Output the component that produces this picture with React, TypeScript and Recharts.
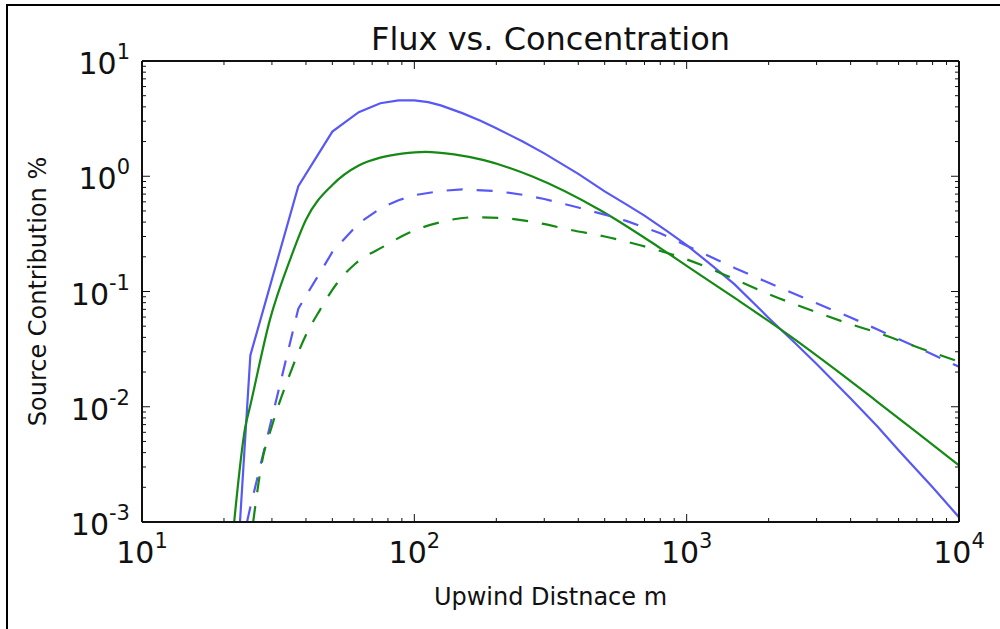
import { LineChart, Line, XAxis, YAxis } from 'recharts';

// upwind distance (m) and source contribution (%) for each curve
const blueSolidDist = [22.9, 25, 37.5, 50, 62.5, 75, 87.5, 100, 112.5, 125, 150, 175, 200, 250, 300, 400, 500, 600, 700, 850, 1000, 1250, 1500, 2000, 2500, 3000, 4000, 5000, 6000, 8000, 10000];
const blueSolidVal = [0.001, 0.028, 0.82, 2.44, 3.6, 4.3, 4.55, 4.55, 4.4, 4.12, 3.53, 3.03, 2.61, 2.0, 1.58, 1.05, 0.74, 0.57, 0.455, 0.333, 0.253, 0.165, 0.1153, 0.059, 0.0357, 0.0235, 0.0118, 0.0068, 0.0042, 0.002, 0.0011];

const greenSolidDist = [21.8, 23.9, 25, 29.5, 35, 40, 50, 62.5, 75, 90, 110, 140, 180, 270, 480, 800, 1000, 1500, 2400, 3500, 5000, 7000, 10000];
const greenSolidVal = [0.001, 0.0065, 0.0103, 0.057, 0.19, 0.42, 0.84, 1.24, 1.45, 1.57, 1.63, 1.55, 1.38, 1.0, 0.51, 0.238, 0.167, 0.088, 0.041, 0.0212, 0.0111, 0.006, 0.0031];

const blueDashDist = [24.3, 25, 37.5, 50, 62.5, 75, 87.5, 100, 125, 150, 200, 250, 300, 400, 500, 600, 800, 1000, 1500, 2000, 3000, 4000, 5000, 7000, 10000];
const blueDashVal = [0.001, 0.00135, 0.071, 0.22, 0.39, 0.527, 0.62, 0.685, 0.745, 0.77, 0.745, 0.69, 0.635, 0.535, 0.465, 0.41, 0.32, 0.25, 0.16, 0.119, 0.079, 0.0596, 0.047, 0.0329, 0.0222];

const greenDashDist = [25.6, 27.5, 30, 35, 40, 45, 52, 61, 77, 96, 120, 165, 220, 290, 380, 500, 670, 1000, 1500, 2000, 3000, 4000, 5000, 7000, 10000];
const greenDashVal = [0.001, 0.0032, 0.0068, 0.0195, 0.042, 0.069, 0.118, 0.176, 0.245, 0.325, 0.39, 0.44, 0.43, 0.39, 0.34, 0.3, 0.253, 0.19, 0.128, 0.095, 0.066, 0.052, 0.044, 0.033, 0.0246];

const xDecades = [10, 100, 1000, 10000];
const yDecades = [0.001, 0.01, 0.1, 1, 10];
const minorSteps = [2, 3, 4, 5, 6, 7, 8, 9];

const withMinor = (decades: number[]) => {
  const out: number[] = [];
  decades.forEach((d, i) => {
    out.push(d);
    if (i < decades.length - 1) minorSteps.forEach((m) => out.push(d * m));
  });
  return out;
};
const xTicks = withMinor(xDecades);
const yTicks = withMinor(yDecades);

const zip = (dist: number[], val: number[]) => dist.map((d, i) => ({ d, v: val[i] }));

const FONT = "'DejaVu Sans', sans-serif";
const BLUE = '#5858f6';
const GREEN = '#148a14';

type Side = 'bottom' | 'top' | 'left' | 'right';

// inward matplotlib-style ticks; labels only on the bottom and left decades
function LogTick(props: any) {
  const { x, y, payload, side } = props as { x: number; y: number; payload: { value: number }; side: Side };
  const lg = Math.log10(payload.value);
  const exp = Math.round(lg);
  const major = Math.abs(lg - exp) < 1e-6;
  const len = major ? 8 : 4;
  let x2 = x;
  let y2 = y;
  if (side === 'bottom') y2 = y - len;
  if (side === 'top') y2 = y + len;
  if (side === 'left') x2 = x + len;
  if (side === 'right') x2 = x - len;
  const showLabel = major && (side === 'bottom' || side === 'left');
  const lx = side === 'left' ? x - 12 : x;
  const ly = side === 'left' ? y + 13 : y + 41;
  return (
    <g>
      <line x1={x} y1={y} x2={x2} y2={y2} stroke="#111" strokeWidth={1} />
      {showLabel && (
        <text x={lx} y={ly} textAnchor={side === 'left' ? 'end' : 'middle'} fontFamily={FONT} fontSize={30} fill="#111">
          <tspan>10</tspan>
          <tspan dy={-15} fontSize={21}>{String(exp)}</tspan>
        </text>
      )}
    </g>
  );
}

const axisLine = { stroke: '#111', strokeWidth: 2 };

export default function App() {
  return (
    <div style={{ position: 'absolute', left: 0, top: 0, width: 1000, height: 629, background: '#fff' }}>
      <div
        style={{
          position: 'absolute',
          left: 6,
          top: 4,
          width: 994,
          height: 625,
          boxSizing: 'border-box',
          borderLeft: '2px solid #000',
          borderTop: '2px solid #000',
        }}
      />
      <div style={{ position: 'absolute', left: 0, top: 0 }}>
        <LineChart width={1000} height={629} margin={{ top: 60, right: 40, bottom: 106, left: 141 }}>
          <XAxis
            xAxisId="bottom"
            dataKey="d"
            type="number"
            scale="log"
            domain={[10, 10000]}
            allowDataOverflow
            ticks={xTicks}
            interval={0}
            height={1}
            tickSize={0}
            tickMargin={0}
            tickLine={false}
            axisLine={axisLine}
            tick={(p: any) => <LogTick {...p} side="bottom" />}
          />
          <XAxis
            xAxisId="top"
            orientation="top"
            dataKey="d"
            type="number"
            scale="log"
            domain={[10, 10000]}
            allowDataOverflow
            ticks={xTicks}
            interval={0}
            height={1}
            tickSize={0}
            tickMargin={0}
            tickLine={false}
            axisLine={axisLine}
            tick={(p: any) => <LogTick {...p} side="top" />}
          />
          <YAxis
            yAxisId="left"
            dataKey="v"
            type="number"
            scale="log"
            domain={[0.001, 10]}
            allowDataOverflow
            ticks={yTicks}
            interval={0}
            width={1}
            tickSize={0}
            tickMargin={0}
            tickLine={false}
            axisLine={axisLine}
            tick={(p: any) => <LogTick {...p} side="left" />}
          />
          <YAxis
            yAxisId="right"
            orientation="right"
            dataKey="v"
            type="number"
            scale="log"
            domain={[0.001, 10]}
            allowDataOverflow
            ticks={yTicks}
            interval={0}
            width={1}
            tickSize={0}
            tickMargin={0}
            tickLine={false}
            axisLine={axisLine}
            tick={(p: any) => <LogTick {...p} side="right" />}
          />
          <Line xAxisId="bottom" yAxisId="left" data={zip(blueSolidDist, blueSolidVal)} dataKey="v" type="linear" stroke={BLUE} strokeWidth={2.2} dot={false} isAnimationActive={false} />
          <Line xAxisId="bottom" yAxisId="left" data={zip(greenSolidDist, greenSolidVal)} dataKey="v" type="monotone" stroke={GREEN} strokeWidth={2.2} dot={false} isAnimationActive={false} />
          <Line xAxisId="bottom" yAxisId="left" data={zip(blueDashDist, blueDashVal)} dataKey="v" type="linear" stroke={BLUE} strokeWidth={2.2} strokeDasharray="16 14" dot={false} isAnimationActive={false} />
          <Line xAxisId="bottom" yAxisId="left" data={zip(greenDashDist, greenDashVal)} dataKey="v" type="monotone" stroke={GREEN} strokeWidth={2.2} strokeDasharray="16 14" dot={false} isAnimationActive={false} />
          <text x={550.5} y={50} textAnchor="middle" fontFamily={FONT} fontSize={32} fill="#111">
            Flux vs. Concentration
          </text>
          <text x={550.5} y={605} textAnchor="middle" fontFamily={FONT} fontSize={24} fill="#111">
            Upwind Distnace m
          </text>
          <text x={46} y={291.5} textAnchor="middle" fontFamily={FONT} fontSize={24} fill="#111" transform="rotate(-90 46 291.5)">
            Source Contribution %
          </text>
        </LineChart>
      </div>
    </div>
  );
}
